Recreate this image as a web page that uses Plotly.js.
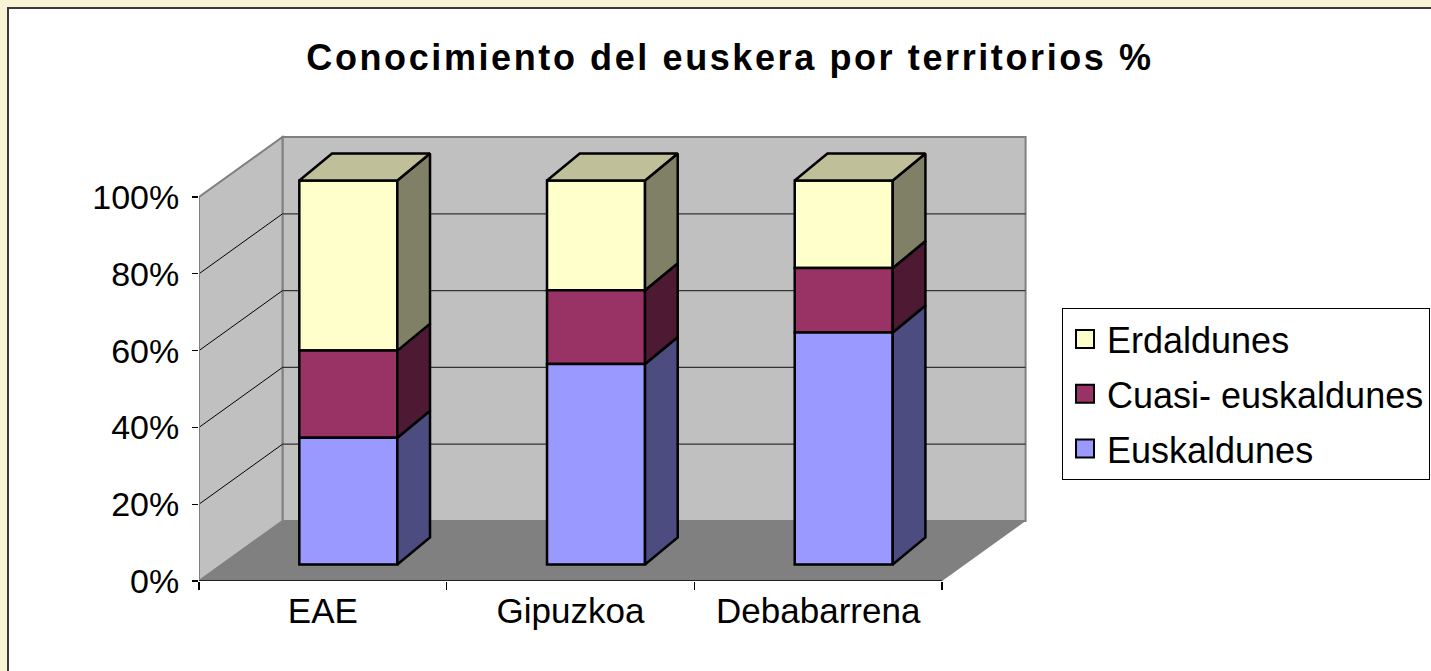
<!DOCTYPE html>
<html><head><meta charset="utf-8">
<script src="https://cdn.plot.ly/plotly-3.0.1.min.js"></script>
<style>
html,body{margin:0;padding:0;background:#F8F3D6;width:1431px;height:671px;overflow:hidden}
#frame{position:absolute;left:7px;top:7px;width:1422px;height:662px;border-left:2px solid #3a3a3a;border-top:2px solid #3a3a3a;background:#fff}
#chart{width:1422px;height:662px}
.gtitle{letter-spacing:2.6px}
</style></head><body>
<div id="frame"><div id="chart"></div></div>
<script>
// ---- data ----
const categories = ['EAE', 'Gipuzkoa', 'Debabarrena'];
const euskaldunes = [33.0, 52.2, 60.4];
const cuasiEuskaldunes = [22.7, 19.2, 16.8];
const erdaldunes = [44.3, 28.6, 22.8];
const seriesNames = ['Euskaldunes', 'Cuasi- euskaldunes', 'Erdaldunes'];
const yTickValues = [0, 20, 40, 60, 80, 100];
const yTickLabels = ['0%', '20%', '40%', '60%', '80%', '100%'];
const chartTitle = 'Conocimiento del euskera por territorios %';

// ---- style / geometry ----
const frontColors = ['#9999FF', '#993366', '#FFFFCC'];
const sideColors = ['#4C4C80', '#4D1933', '#808066'];
const topColor = '#BFBF99';
const PX_X = 247.7, PX_Y = 3.84;          // px per category unit, px per percent
const WALL_DX = 83.5 / PX_X, WALL_DY = 60 / PX_Y;
const BAR_DX = 32.7 / PX_X, BAR_DY = 27 / PX_Y;
const BAR_SHIFT_Y = 4.3;
const BAR_WIDTH = 98 / PX_X, BAR_OFFSET = -0.095;
const ML = 190, PW = 831, MT = 123, PH = 449, W = 1422, H = 662;
const FONT = 'Liberation Sans, Arial, sans-serif';

const series = [euskaldunes, cuasiEuskaldunes, erdaldunes];
const xpos = categories.map((c, i) => i);
const nCat = categories.length;
const x0 = -0.5, x1 = nCat - 0.5;

// cumulative bases
const bases = [];
let cum = categories.map(() => BAR_SHIFT_Y);
series.forEach((vals, s) => {
  bases.push(cum.slice());
  cum = cum.map((c, i) => c + vals[i]);
});
const stackTop = cum;

const traces = [];
// front faces (added top series first so the legend lists Erdaldunes first)
for (let s = series.length - 1; s >= 0; s--) {
  traces.push({
    type: 'bar', x: xpos, y: series[s], base: bases[s], width: BAR_WIDTH, offset: BAR_OFFSET,
    name: seriesNames[s], legendgroup: seriesNames[s],
    marker: {color: frontColors[s], line: {color: '#000', width: 2.5}},
    hoverinfo: 'skip'
  });
}
// side faces
series.forEach((vals, s) => {
  const xs = [], ys = [];
  vals.forEach((v, i) => {
    const xr = xpos[i] + BAR_OFFSET + BAR_WIDTH;
    const b = bases[s][i], t = b + v;
    xs.push(xr, xr + BAR_DX, xr + BAR_DX, xr, xr, null);
    ys.push(b, b + BAR_DY, t + BAR_DY, t, b, null);
  });
  traces.push({type: 'scatter', mode: 'lines', x: xs, y: ys, fill: 'toself',
    fillcolor: sideColors[s], line: {color: '#000', width: 2.5}, showlegend: false,
    hoverinfo: 'skip'});
});
// top faces
{
  const xs = [], ys = [];
  stackTop.forEach((t, i) => {
    const xl = xpos[i] + BAR_OFFSET, xr = xl + BAR_WIDTH;
    xs.push(xl, xr, xr + BAR_DX, xl + BAR_DX, xl, null);
    ys.push(t, t, t + BAR_DY, t + BAR_DY, t, null);
  });
  traces.push({type: 'scatter', mode: 'lines', x: xs, y: ys, fill: 'toself',
    fillcolor: topColor, line: {color: '#000', width: 2.5}, showlegend: false,
    hoverinfo: 'skip'});
}

// walls / floor / grid as shapes
const shapes = [];
const wallLine = {color: '#808080', width: 2};
shapes.push({type: 'path', layer: 'below', xref: 'x', yref: 'y',
  path: `M${x0 + WALL_DX},${WALL_DY} L${x1 + WALL_DX},${WALL_DY} L${x1 + WALL_DX},${100 + WALL_DY} L${x0 + WALL_DX},${100 + WALL_DY} Z`,
  fillcolor: '#C0C0C0', line: wallLine});
shapes.push({type: 'path', layer: 'below', xref: 'x', yref: 'y',
  path: `M${x0},0 L${x0 + WALL_DX},${WALL_DY} L${x0 + WALL_DX},${100 + WALL_DY} L${x0},100 Z`,
  fillcolor: '#C0C0C0', line: wallLine});
shapes.push({type: 'path', layer: 'below', xref: 'x', yref: 'y',
  path: `M${x0},0 L${x1},0 L${x1 + WALL_DX},${WALL_DY} L${x0 + WALL_DX},${WALL_DY} Z`,
  fillcolor: '#808080', line: {width: 0}});
yTickValues.forEach(v => {
  if (v > 0 && v < 100) {
    shapes.push({type: 'line', layer: 'below', xref: 'x', yref: 'y',
      x0: x0 + WALL_DX, x1: x1 + WALL_DX, y0: v + WALL_DY, y1: v + WALL_DY,
      line: {color: '#333', width: 1.3}});
    shapes.push({type: 'line', layer: 'below', xref: 'x', yref: 'y',
      x0: x0, x1: x0 + WALL_DX, y0: v, y1: v + WALL_DY,
      line: {color: '#000', width: 1}});
  }
});
// front-left edge and category axis line
shapes.push({type: 'line', layer: 'below', xref: 'x', yref: 'y', x0: x0, x1: x0, y0: 0, y1: 100,
  line: {color: '#808080', width: 2}});
shapes.push({type: 'line', layer: 'above', xref: 'x', yref: 'y', x0: x0, x1: x1, y0: 0, y1: 0,
  line: {color: '#000', width: 1.5}});

const layout = {
  width: W, height: H,
  margin: {l: ML, r: W - ML - PW, t: MT, b: H - MT - PH, pad: 0, autoexpand: false},
  paper_bgcolor: '#fff', plot_bgcolor: 'rgba(0,0,0,0)',
  barmode: 'overlay', hovermode: false,
  title: {text: chartTitle, font: {family: FONT, size: 36, color: '#000', weight: 'bold'},
    xref: 'container', yref: 'container', x: 721 / W, y: 1 - 48 / H, xanchor: 'center', yanchor: 'middle'},
  xaxis: {type: 'linear', range: [x0, x0 + PW / PX_X], showgrid: false, zeroline: false, showline: false,
    tickvals: xpos, ticktext: categories, ticks: '', ticklabelstandoff: 6,
    tickfont: {family: FONT, size: 35, color: '#000'},
    minor: {tickvals: [-0.5, 0.5, 1.5, 2.5], ticks: 'outside', ticklen: 8, tickcolor: '#000', tickwidth: 1.3, showgrid: false},
    fixedrange: true},
  yaxis: {type: 'linear', range: [0, PH / PX_Y], showgrid: false, zeroline: false, showline: false,
    tickvals: yTickValues, ticktext: yTickLabels, ticks: 'outside', ticklen: 6, tickcolor: '#000', tickwidth: 1.3,
    ticklabelstandoff: 6, tickfont: {family: FONT, size: 34, color: '#000'}, fixedrange: true},
  legend: {x: (1053 - ML) / PW, y: 1 - (299 - MT) / PH, xanchor: 'left', yanchor: 'top',
    bgcolor: '#fff', bordercolor: '#000', borderwidth: 1,
    traceorder: 'grouped', tracegroupgap: 5, itemwidth: 34,
    font: {family: FONT, size: 36, color: '#000'}},
  shapes: shapes,
  showlegend: true
};
Plotly.newPlot('chart', traces, layout, {displayModeBar: false, staticPlot: true}).then(gd => {
  // enlarge legend swatches to match the reference's bigger squares
  gd.querySelectorAll('.legend .legendpoints path').forEach(p => {
    p.setAttribute('d', 'M9,9H-9V-9H9Z');
    p.style.strokeWidth = '2px';
  });
});
</script>
</body></html>
